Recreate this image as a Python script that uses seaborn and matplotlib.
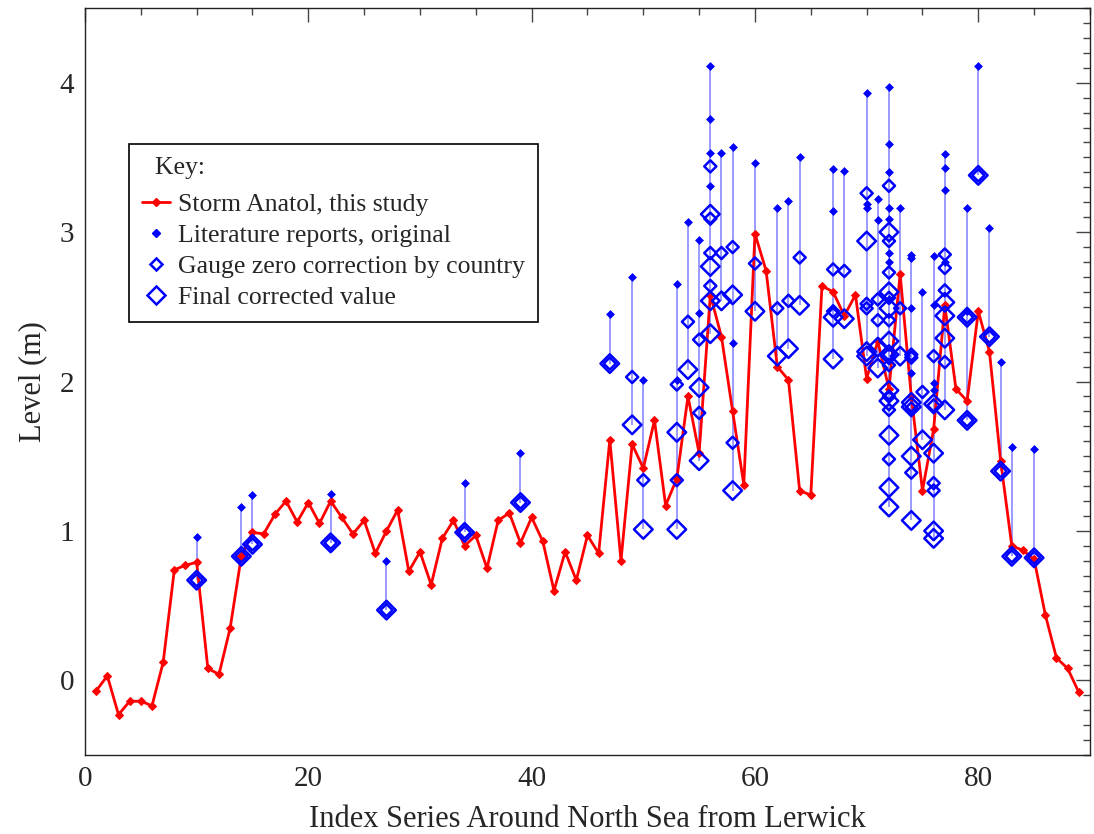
import numpy as np
import pandas as pd
import matplotlib
matplotlib.use('Agg')
import matplotlib.pyplot as plt
from matplotlib.lines import Line2D
from matplotlib.ticker import MultipleLocator
import seaborn as sns

sns.set_style('white')
plt.rcParams['font.family'] = ['Liberation Serif', 'DejaVu Serif']

# storm surge along the coast (red line), index 1..89
red_level = [-0.07, 0.03, -0.23, -0.14, -0.14, -0.17, 0.12, 0.74, 0.77, 0.79,
             0.08, 0.04, 0.35, 0.83, 0.99, 0.98, 1.11, 1.20, 1.06, 1.19,
             1.05, 1.20, 1.09, 0.98, 1.07, 0.85, 1.00, 1.14, 0.73, 0.86,
             0.64, 0.95, 1.07, 0.90, 0.97, 0.75, 1.07, 1.12, 0.92, 1.09,
             0.93, 0.60, 0.86, 0.67, 0.97, 0.85, 1.61, 0.80, 1.58, 1.42,
             1.74, 1.17, 1.35, 1.90, 1.52, 2.58, 2.30, 1.80, 1.31, 2.99,
             2.74, 2.10, 2.01, 1.27, 1.24, 2.64, 2.60, 2.44, 2.58, 2.02,
             2.27, 1.95, 2.72, 1.90, 1.27, 1.68, 2.51, 1.95, 1.87, 2.47,
             2.20, 1.47, 0.90, 0.87, 0.81, 0.44, 0.15, 0.08, -0.08]
red_index = list(range(1, len(red_level) + 1))

# literature reports (index, level)
orig = [(10, 0.96), (14, 1.16), (15, 1.24), (22, 1.25), (27, 0.80), (34, 1.32), (39, 1.52), (47, 2.45),
        (49, 2.70), (50, 2.01), (53, 2.65), (53, 2.01), (54, 3.07), (55, 2.95), (55, 2.46),
        (56, 4.11), (56, 3.76), (56, 3.53), (56, 3.31), (57, 3.53), (58, 3.57), (58, 2.26),
        (60, 3.46), (62, 3.16), (63, 3.21), (64, 3.50), (67, 3.42), (67, 3.14), (68, 3.41),
        (70, 3.93), (70, 3.19), (70, 3.16), (71, 3.22), (71, 3.08),
        (72, 3.97), (72, 3.59), (72, 3.40), (72, 3.16), (72, 3.09), (72, 2.86), (72, 2.80), (72, 2.55),
        (73, 3.16), (74, 2.85), (74, 2.83), (74, 2.49), (74, 2.06), (75, 2.60),
        (76, 2.84), (76, 2.51), (76, 1.99), (76, 1.94), (77, 3.52), (77, 3.43), (77, 3.28), (77, 2.80),
        (79, 3.16), (79, 2.47), (80, 4.11), (81, 3.03), (82, 2.13), (83, 1.56), (85, 1.55)]

gauge = [(10, 0.67), (14, 0.83), (15, 0.91), (22, 0.92), (27, 0.47), (34, 0.99), (39, 1.19), (47, 2.12),
         (49, 2.03), (50, 1.34), (53, 1.98), (53, 1.34), (54, 2.40), (55, 2.28), (55, 1.79),
         (56, 3.44), (56, 3.09), (56, 2.86), (56, 2.64), (57, 2.86), (58, 2.90), (58, 1.59),
         (60, 2.79), (62, 2.49), (63, 2.54), (64, 2.83), (67, 2.75), (67, 2.47), (68, 2.74),
         (70, 3.26), (70, 2.52), (70, 2.49), (71, 2.55), (71, 2.41),
         (72, 3.31), (72, 2.94), (72, 2.73), (72, 2.56), (72, 2.41), (72, 2.18), (72, 2.11), (72, 1.90),
         (72, 1.81), (72, 1.48),
         (73, 2.49), (74, 2.18), (74, 2.16), (74, 1.82), (74, 1.39), (75, 1.93),
         (76, 2.17), (76, 1.84), (76, 1.32), (76, 1.27), (77, 2.85), (77, 2.76), (77, 2.61), (77, 2.13),
         (79, 2.43), (79, 1.74), (80, 3.38), (81, 2.30), (82, 1.40), (83, 0.83), (85, 0.82)]

final = [(10, 0.67), (14, 0.83), (15, 0.91), (22, 0.92), (27, 0.47), (34, 0.99), (39, 1.19), (47, 2.12),
         (49, 1.71), (50, 1.01), (53, 1.66), (53, 1.01), (54, 2.08), (55, 1.96), (55, 1.47),
         (56, 3.12), (56, 2.77), (56, 2.54), (56, 2.32), (57, 2.54), (58, 2.58), (58, 1.27),
         (60, 2.47), (62, 2.17), (63, 2.22), (64, 2.51), (67, 2.43), (67, 2.15), (68, 2.42),
         (70, 2.94), (70, 2.20), (70, 2.17), (71, 2.23), (71, 2.09),
         (72, 3.00), (72, 2.60), (72, 2.49), (72, 2.27), (72, 2.18), (72, 1.94), (72, 1.87), (72, 1.64),
         (72, 1.29), (72, 1.16),
         (73, 2.17), (74, 1.86), (74, 1.83), (74, 1.50), (74, 1.07), (75, 1.61),
         (76, 1.85), (76, 1.52), (76, 1.00), (76, 0.95), (77, 2.53), (77, 2.44), (77, 2.29), (77, 1.81),
         (79, 2.43), (79, 1.74), (80, 3.38), (81, 2.30), (82, 1.40), (83, 0.83), (85, 0.82)]

df_red = pd.DataFrame({'Index': red_index, 'Level': red_level})
df_orig = pd.DataFrame(orig, columns=['Index', 'Level'])
df_gauge = pd.DataFrame(gauge, columns=['Index', 'Level'])
df_final = pd.DataFrame(final, columns=['Index', 'Level'])

# vertical stems joining the reports at each site
df_all = pd.concat([df_orig, df_gauge, df_final])
stems = df_all.groupby('Index')['Level'].agg(['min', 'max']).reset_index()

fig = plt.figure(figsize=(10.94, 8.34), dpi=100)
ax = fig.add_axes([0.0777, 0.0947, 0.9186, 0.8957])

ax.vlines(stems['Index'], stems['min'], stems['max'], color='#0000ff', alpha=0.5, lw=1.1, zorder=1)

sns.lineplot(data=df_red, x='Index', y='Level', color='#ff0000', lw=2.0, marker='D',
             markersize=4, markeredgecolor='#ff0000', ax=ax, zorder=2)

sns.scatterplot(data=df_orig, x='Index', y='Level', marker='D', s=16, color='#0000ff',
                edgecolor='#0000ff', linewidth=0.5, ax=ax, zorder=3)
sns.scatterplot(data=df_gauge, x='Index', y='Level', marker='D', s=38, color='#0000ff',
                facecolor='none', edgecolor='#0000ff', linewidth=1.8, ax=ax, zorder=3)
sns.scatterplot(data=df_final, x='Index', y='Level', marker='D', s=90, color='#0000ff',
                facecolor='none', edgecolor='#0000ff', linewidth=1.8, ax=ax, zorder=3)

ax.set_xlim(0, 90)
ax.set_ylim(-0.5, 4.5)
ax.xaxis.set_major_locator(MultipleLocator(20))
ax.xaxis.set_minor_locator(MultipleLocator(5))
ax.yaxis.set_major_locator(MultipleLocator(1))
ax.yaxis.set_minor_locator(MultipleLocator(0.1))
ax.tick_params(which='both', direction='in', top=True, right=True, color='#444444')
ax.tick_params(which='major', length=10, width=1, labelsize=21, pad=8)
ax.tick_params(which='minor', length=5, width=1)
for sp in ax.spines.values():
    sp.set_color('#222222')
    sp.set_linewidth(1)

ax.set_xlabel('Index Series Around North Sea from Lerwick', fontsize=22, labelpad=9)
ax.set_ylabel('Level (m)', fontsize=22, labelpad=9)

handles = [
    Line2D([], [], color='#ff0000', lw=2.0, marker='D', markersize=4),
    Line2D([], [], ls='none', marker='D', markersize=4, color='#0000ff'),
    Line2D([], [], ls='none', marker='D', markersize=6.2, mfc='none', mec='#0000ff', mew=1.8),
    Line2D([], [], ls='none', marker='D', markersize=9.5, mfc='none', mec='#0000ff', mew=1.8),
]
labels = ['Storm Anatol, this study', 'Literature reports, original',
          'Gauge zero correction by country', 'Final corrected value']
leg = ax.legend(handles, labels, title='  Key:', loc='upper left', bbox_to_anchor=(0.0438, 0.818),
                fontsize=18.5, title_fontsize=18.5, frameon=True, fancybox=False,
                edgecolor='black', framealpha=1, handlelength=1.1, handletextpad=0.3,
                labelspacing=0.32, borderpad=0.5, borderaxespad=0, alignment='left')
leg.get_frame().set_linewidth(1.2)
leg._legend_box.sep = 10  # extra room under the "Key:" title

fig.savefig('out.png', dpi=100)
